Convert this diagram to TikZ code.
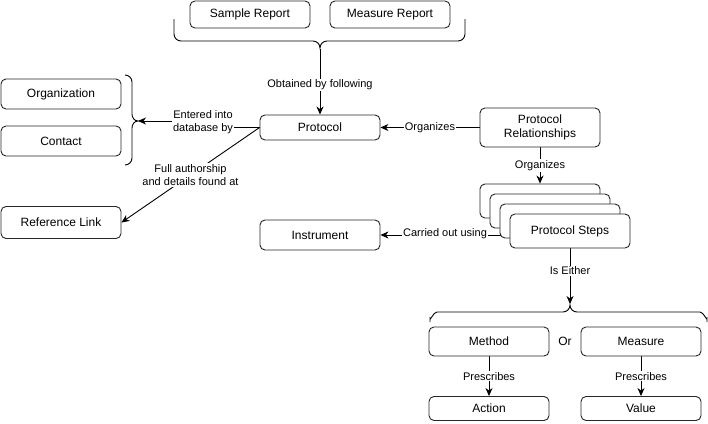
\documentclass[tikz,border=0pt]{standalone}
\usepackage{fontspec}
\setmainfont{Liberation Sans}
\usetikzlibrary{arrows.meta,backgrounds}
\begin{document}
\begin{tikzpicture}[x=1pt,y=-1pt,
  box/.style={draw=black!85, line width=0.9pt, rounded corners=5pt, fill=white,
    minimum width=120pt, inner sep=1pt, align=center, font=\fontsize{12}{14}\selectfont},
  lbl/.style={fill=white, inner sep=1pt, align=center, font=\fontsize{11}{13}\selectfont},
  arr/.style={line width=0.9pt, -{Stealth[length=8pt,width=7pt,inset=2.5pt]}},
  ln/.style={line width=0.9pt}]
\useasboundingbox (0,0) rectangle (708,423);
% boxes
\node[box, minimum height=27pt] (sample) at (250,14.5) {Sample Report};
\node[box, minimum height=27pt] (measrep) at (390,14.5) {Measure Report};
\node[box, minimum height=30pt] (org) at (61,94) {Organization};
\node[box, minimum height=30pt] (contact) at (61,141) {Contact};
\node[box, minimum height=32pt] (reflink) at (61,222.5) {Reference Link};
\node[box, minimum height=25pt] (protocol) at (320,127.5) {Protocol};
\node[box, minimum height=39pt] (prel) at (540,127.5) {Protocol\\Relationships};
\node[box, minimum height=34pt] (s1) at (540,201) {};
\node[box, minimum height=34pt] (s2) at (550,211) {};
\node[box, minimum height=34pt] (s3) at (560,221) {};
\node[box, minimum height=34pt] (ps) at (570,231) {Protocol Steps};
\node[box, minimum height=30pt] (instr) at (320,235) {Instrument};
\node[box, minimum height=29pt] (method) at (489,341.5) {Method};
\node[box, minimum height=29pt] (measure) at (641,341.5) {Measure};
\node[box, minimum height=24pt] (action) at (489,408.5) {Action};
\node[box, minimum height=24pt] (value) at (641,408.5) {Value};
\node[font=\fontsize{12}{14}\selectfont] (or) at (565,341) {Or};
% braces
\coordinate (toptip) at (320,49);
\draw[ln] (174,19) -- (174,34) to[out=90,in=180] (174,34) to[out=-90,in=180] (181,41) -- (313,41)
  to[out=0,in=90] (320,48) to[out=90,in=180] (327,41) -- (458,41) to[out=0,in=-90] (465,34) -- (465,19);
\coordinate (lefttip) at (138,121);
\draw[ln] (125,75) to[out=0,in=90] (132,82) -- (132,114) to[out=-90,in=180] (138,121)
  to[out=180,in=90] (132,128) -- (132,158) to[out=-90,in=0] (125,165);
\coordinate (bottip) at (570,304);
\draw[ln] (430,322) -- (430,318) to[out=-90,in=180] (437,312) -- (563,312)
  to[out=0,in=-90] (570,305) to[out=-90,in=180] (577,312) -- (700,312) to[out=0,in=-90] (707,318) -- (707,322);
% connectors
\begin{scope}[on background layer]
\draw[arr] (toptip) -- (protocol.north) node[lbl, pos=0.55] {Obtained by following};
\draw[arr] (protocol.west) -- (205,127.5) -- (205,121) -- (lefttip);
\node[lbl] at (203,122) {Entered into\\database by};
\draw[arr] (protocol.west) -- (reflink.east) node[lbl, pos=0.5] {Full authorship\\and details found at};
\draw[arr] (prel.west) -- (protocol.east) node[lbl, pos=0.5] {Organizes};
\draw[arr] (prel.south) -- (s1.north) node[lbl, pos=0.5] {Organizes};
\draw[arr] (instr.east -| ps.west) -- (instr.east);
\node[lbl] at (445,234) {Carried out using};
\draw[arr] (ps.south) -- (bottip) node[lbl, pos=0.4] {Is Either};
\draw[arr] (method.south) -- (action.north) node[lbl, pos=0.5] {Prescribes};
\draw[arr] (measure.south) -- (value.north) node[lbl, pos=0.5] {Prescribes};
\end{scope}
\end{tikzpicture}
\end{document}
